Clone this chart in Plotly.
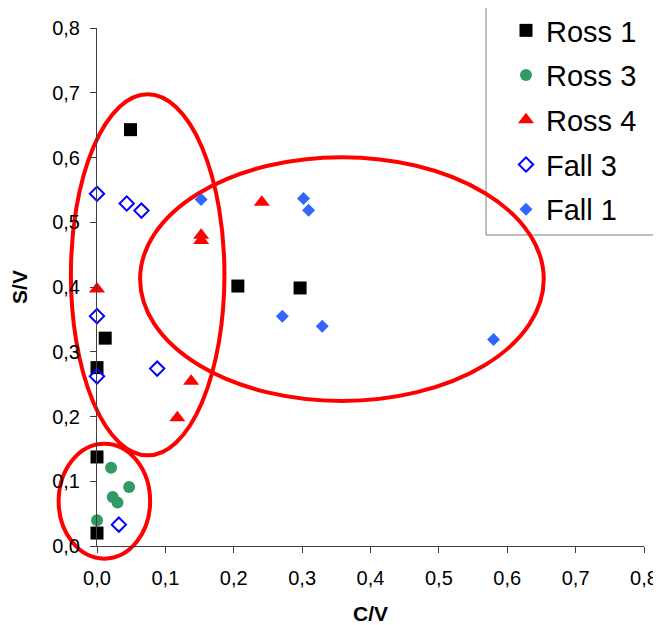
import plotly.graph_objects as go

# ---- data ----
ross1_x = [0.049, 0.206, 0.297, 0.012, 0.0, 0.0, 0.0]
ross1_y = [0.643, 0.4015, 0.3985, 0.321, 0.2755, 0.1375, 0.020]
ross3_x = [0.0206, 0.047, 0.023, 0.030, 0.0]
ross3_y = [0.121, 0.091, 0.0757, 0.067, 0.0397]
ross4_x = [0.0, 0.1175, 0.1377, 0.1523, 0.1523, 0.241]
ross4_y = [0.397, 0.198, 0.2544, 0.480, 0.472, 0.531]
fall3_x = [0.0, 0.0435, 0.065, 0.0, 0.0, 0.088, 0.032]
fall3_y = [0.544, 0.529, 0.518, 0.355, 0.262, 0.274, 0.033]
fall1_x = [0.1523, 0.302, 0.3094, 0.271, 0.3294, 0.580]
fall1_y = [0.535, 0.5365, 0.5185, 0.355, 0.3393, 0.319]

# highlighted groups (ellipses), in data units
ellipse_cx = [0.0741, 0.3582, 0.0108]
ellipse_cy = [0.4188, 0.4122, 0.0693]
ellipse_rx = [0.1123, 0.2952, 0.0669]
ellipse_ry = [0.2788, 0.1882, 0.0888]

x_range = [0.0, 0.8]
y_range = [0.0, 0.8]

# the page body has an 8px margin, so the figure is drawn offset by 8px
OFF = 8
W, H = 661 - OFF, 625 - OFF
ML, MR, MT, MB = 97 - OFF, 17, 28 - OFF, 79
PW, PH = W - ML - MR, H - MT - MB

FONT = "Arial, Liberation Sans, sans-serif"

fig = go.Figure()
series = [
    ("Ross 1", ross1_x, ross1_y, dict(symbol="square", size=13, color="#000000")),
    ("Ross 3", ross3_x, ross3_y, dict(symbol="circle", size=12, color="#339966")),
    ("Ross 4", ross4_x, ross4_y, dict(symbol="triangle-up", size=14, color="#FF0000")),
    ("Fall 3", fall3_x, fall3_y, dict(symbol="diamond-open", size=11, color="#0000FF",
                                      line=dict(width=2, color="#0000FF"))),
    ("Fall 1", fall1_x, fall1_y, dict(symbol="diamond", size=10, color="#3366FF")),
]
for i, (name, xs, ys, mk) in enumerate(series):
    fig.add_trace(go.Scatter(x=xs, y=ys, mode="markers", name=name, marker=mk,
                             cliponaxis=False, legendgroup=f"g{i}"))


def px_x(v):
    return (v - x_range[0]) / (x_range[1] - x_range[0])


def px_y(v):
    return (v - y_range[0]) / (y_range[1] - y_range[0])


def scr_x(p):  # screen pixel -> paper x
    return (p - OFF - ML) / PW


def scr_y(p):  # screen pixel -> paper y
    return (OFF + MT + PH - p) / PH


shapes = []
# legend frame
shapes.append(dict(type="rect", xref="paper", yref="paper",
                   x0=scr_x(486), x1=scr_x(680),
                   y0=scr_y(235), y1=scr_y(6.5),
                   line=dict(color="#808080", width=1), fillcolor="rgba(0,0,0,0)",
                   layer="below"))
for cx, cy, rx, ry in zip(ellipse_cx, ellipse_cy, ellipse_rx, ellipse_ry):
    shapes.append(dict(type="circle", xref="paper", yref="paper",
                       x0=px_x(cx - rx), x1=px_x(cx + rx),
                       y0=px_y(cy - ry), y1=px_y(cy + ry),
                       line=dict(color="#FF0000", width=4), layer="below"))

axis_common = dict(
    showgrid=False, zeroline=False, showline=True, linecolor="#404040", linewidth=1,
    ticks="outside", ticklen=6, tickcolor="#404040", tickwidth=1,
    dtick=0.1, tick0=0, tickformat=".1f",
    tickfont=dict(family=FONT, size=20, color="#000000"),
)

fig.update_layout(
    width=W, height=H,
    margin=dict(l=ML, r=MR, t=MT, b=MB, autoexpand=False),
    paper_bgcolor="white", plot_bgcolor="white",
    separators=", ",
    shapes=shapes,
    showlegend=True,
    legend=dict(x=scr_x(506), y=scr_y(5), xanchor="left", yanchor="top",
                bgcolor="rgba(0,0,0,0)", borderwidth=0,
                font=dict(family=FONT, size=29, color="#000000"),
                traceorder="grouped", tracegroupgap=4),
    xaxis=dict(range=x_range, ticklabelstandoff=8,
               title=dict(text="<b>C/V</b>", standoff=24,
                          font=dict(family=FONT, size=21, color="#000000")),
               **axis_common),
    yaxis=dict(range=y_range, ticklabelstandoff=6,
               title=dict(text="<b>S/V</b>", standoff=19,
                          font=dict(family=FONT, size=21, color="#000000")),
               **axis_common),
)

fig.write_html("out.html")
